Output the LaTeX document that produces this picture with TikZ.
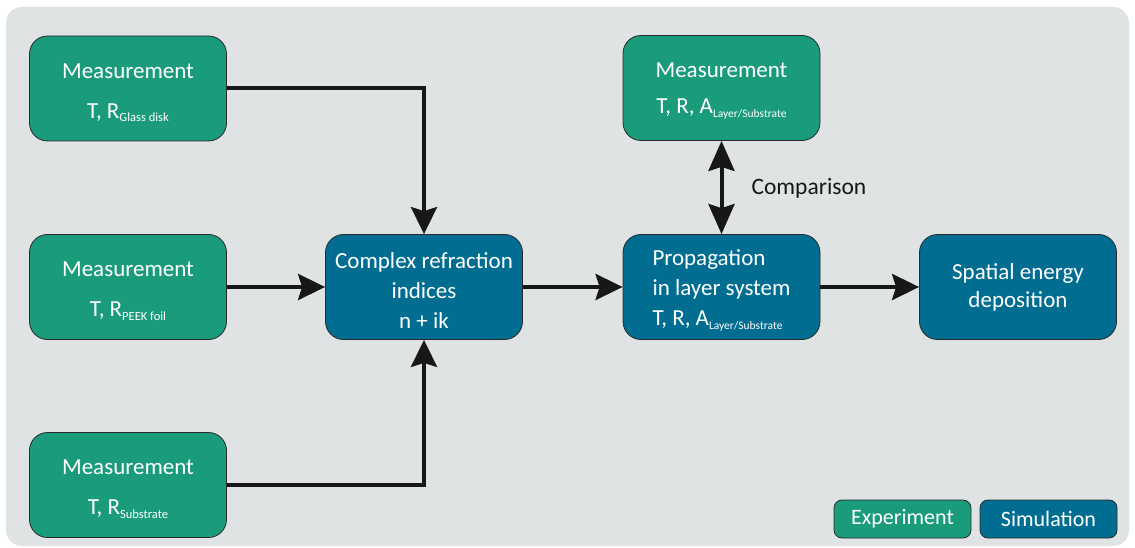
\documentclass[tikz,border=0pt]{standalone}
\usepackage{fontspec}
\setmainfont{Carlito}
\usetikzlibrary{arrows.meta}
\definecolor{expgreen}{HTML}{1A9B7B}
\definecolor{simblue}{HTML}{006D91}
\definecolor{bggray}{HTML}{E0E3E4}
\definecolor{edgedark}{HTML}{2A2A2A}
\definecolor{arrowblack}{HTML}{161716}
\newcommand{\lowtxt}[1]{\raisebox{-3.5pt}{\fontsize{12.5}{12.5}\selectfont #1}}
\newcommand{\lowtxtsm}[1]{\raisebox{-3.5pt}{\fontsize{11.5}{11.5}\selectfont #1}}
\newcommand{\topstrut}[1]{\rule{0pt}{#1}}
\begin{document}
\begin{tikzpicture}[x=1pt,y=-1pt,
  box/.style={draw=edgedark, line width=0.8pt, rounded corners=18pt,
    minimum width=197pt, minimum height=105pt, text=white, inner sep=0pt,
    font=\fontsize{23}{30}\selectfont},
  expbox/.style={box, fill=expgreen, align=center},
  simbox/.style={box, fill=simblue, align=center},
  legbox/.style={draw=edgedark, line width=0.8pt, rounded corners=8pt,
    minimum width=137pt, minimum height=38pt, text=white, inner sep=0pt,
    font=\fontsize{22}{26}\selectfont},
  flow/.style={line width=4pt, draw=arrowblack,
    -{Stealth[length=27pt,width=26pt,inset=4pt]}},
  dflow/.style={line width=4pt, draw=arrowblack,
    {Stealth[length=30pt,width=26pt,inset=4pt]}-{Stealth[length=30pt,width=26pt,inset=4pt]}},
]
\useasboundingbox (0,0) rectangle (1135,548);
\fill[bggray, rounded corners=16pt] (6,7) rectangle (1129,546);

\node[expbox] (m1) at (128,88.5) {\topstrut{23pt}Measurement\\[10pt]T, R\lowtxt{Glass disk}};
\node[expbox] (m2) at (128,287) {\topstrut{23pt}Measurement\\[10pt]T, R\lowtxt{PEEK foil}};
\node[expbox] (m3) at (128,485) {\topstrut{23pt}Measurement\\[10pt]T, R\lowtxt{Substrate}};
\node[simbox] (cx) at (424,287) {\topstrut{23pt}Complex refraction\\indices\\n + ik};
\node[expbox] (mt) at (721.5,88) {\topstrut{21pt}Measurement\\[6pt]T, R, A\lowtxtsm{Layer/Substrate}};
\node[box, fill=simblue, align=left] (prop) at (721.5,287) {\topstrut{23pt}Propagation\\in layer system\\T, R, A\lowtxtsm{Layer/Substrate}};
\node[simbox, font=\fontsize{23}{28}\selectfont] (spat) at (1018,287) {Spatial energy\\deposition};

\node[legbox, fill=expgreen] (lexp) at (902.5,519) {Experiment};
\node[legbox, fill=simblue] (lsim) at (1048.5,519) {Simulation};

\draw[flow] (m1.east) -| (cx.north);
\draw[flow] (m2.east) -- (cx.west);
\draw[flow] (m3.east) -| (cx.south);
\draw[flow] (cx.east) -- (prop.west);
\draw[flow] (prop.east) -- (spat.west);
\draw[dflow] (mt.south) -- (prop.north);
\node[anchor=west, text=arrowblack, font=\fontsize{23.5}{28}\selectfont] (cmp) at (748,188) {Comparison};
\end{tikzpicture}
\end{document}
